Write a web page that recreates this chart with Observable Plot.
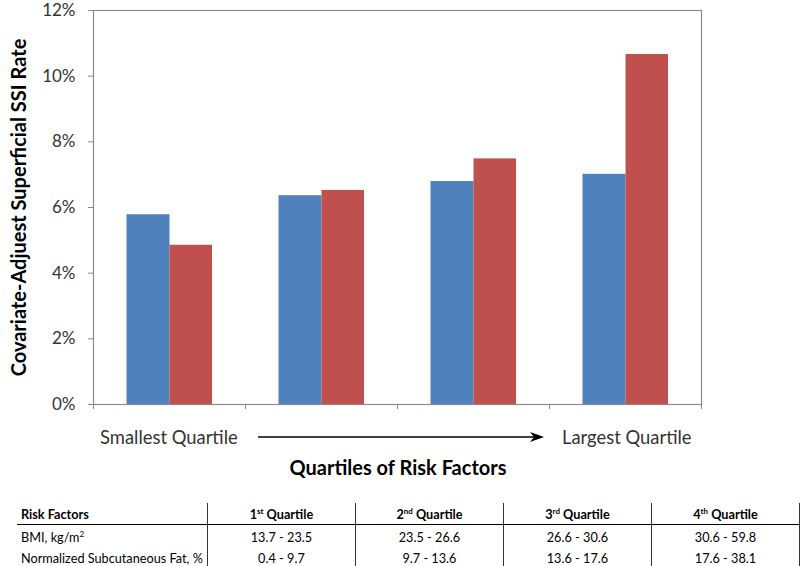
<!DOCTYPE html>
<html><head><meta charset="utf-8">
<script src="https://cdn.jsdelivr.net/npm/d3@7"></script>
<script src="https://cdn.jsdelivr.net/npm/@observablehq/plot@0.6"></script>
<style>
body{margin:0;background:#fff;font-family:Lato,"Open Sans",sans-serif;}
#wrap{position:relative;width:800px;height:566px;overflow:hidden;background:#fff;}
#chart{position:absolute;left:0;top:0;}
.lab{position:absolute;font-size:18.4px;color:#333;line-height:20px;white-space:nowrap;}
#arrow{position:absolute;}
#xtitle{position:absolute;left:0;width:796px;text-align:center;font-weight:bold;font-size:20px;color:#000;line-height:24px;}
#tbl{position:absolute;left:17px;top:503px;border-collapse:collapse;font-size:12.7px;color:#000;}
#tbl td{padding:0;border-right:1px solid #333;text-align:center;white-space:nowrap;}
#tbl td.first{text-align:left;padding-left:4px;}
#tbl tr.head td{font-weight:bold;border-bottom:1px solid #000;height:21px;}
#tbl tr.r1 td{height:23px;}
#tbl tr.r2 td{height:19px;}
sup{font-size:8px;line-height:0;vertical-align:5px;}
</style></head><body>
<div id="wrap">
  <div id="chart"></div>
  <div class="lab" id="small"></div>
  <svg id="arrow" width="300" height="14"></svg>
  <div class="lab" id="large"></div>
  <div id="xtitle"></div>
  <table id="tbl"></table>
</div>
<script>
// ---- data ----
const quartiles = ["1st Quartile", "2nd Quartile", "3rd Quartile", "4th Quartile"];
const ordinalNums = ["1", "2", "3", "4"];
const ordinalSuffix = ["st", "nd", "rd", "th"];
const bmiRate = [0.0578, 0.0636, 0.0679, 0.0701];
const fatRate = [0.0485, 0.0652, 0.0748, 0.1066];
const yTicks = [0, 0.02, 0.04, 0.06, 0.08, 0.10, 0.12];
const yTitle = "Covariate-Adjuest Superficial SSI Rate";
const xTitle = "Quartiles of Risk Factors";
const arrowLeftLabel = "Smallest Quartile";
const arrowRightLabel = "Largest Quartile";
const tableHeader = "Risk Factors";
const rowLabels = ["BMI, kg/m", "Normalized Subcutaneous Fat, %"];
const bmiRanges = ["13.7 - 23.5", "23.5 - 26.6", "26.6 - 30.6", "30.6 - 59.8"];
const fatRanges = ["0.4 - 9.7", "9.7 - 13.6", "13.6 - 17.6", "17.6 - 38.1"];

// ---- chart ----
const W = 800, H = 420, mL = 93, mR = 99, mT = 10, mB = 16;
const bw = (W - mL - mR) / quartiles.length;
const data = quartiles.map((q, i) => ({q, bmi: bmiRate[i], fat: fatRate[i]}));
const axisColor = "#8a8a8a";

const chart = Plot.plot({
  width: W, height: H,
  marginLeft: mL, marginRight: mR, marginTop: mT, marginBottom: mB,
  style: {fontFamily: "Lato, 'Open Sans', sans-serif", fontSize: "17px", color: "#333", background: "white", overflow: "visible"},
  x: {domain: quartiles, padding: 0, axis: null},
  y: {domain: [0, 0.12], axis: null},
  marks: [
    Plot.barY(data, {x: "q", y: "bmi", fill: "#4F81BD", insetLeft: 33.5, insetRight: 75.5}),
    Plot.barY(data, {x: "q", y: "fat", fill: "#C0504D", insetLeft: 76.5, insetRight: 33}),
    Plot.frame({stroke: axisColor, strokeWidth: 1.2}),
    Plot.axisY({ticks: yTicks, tickFormat: d3.format(".0%"), tickSize: 5, tickPadding: 13, stroke: axisColor, fill: "#333", label: null}),
    Plot.axisY({ticks: [], tickSize: 0, label: yTitle, labelArrow: "none", labelAnchor: "center", labelOffset: 82, dy: -10, fontSize: 20, fontWeight: "bold", fill: "#000"}),
    Plot.axisX({ticks: quartiles, tickSize: 5, tickFormat: () => "", dx: -bw / 2, stroke: axisColor, label: null}),
    Plot.axisX({ticks: [quartiles[quartiles.length - 1]], tickSize: 5, tickFormat: () => "", dx: bw / 2, stroke: axisColor, label: null})
  ]
});
document.getElementById("chart").appendChild(chart);

// ---- under-chart annotations ----
const small = document.getElementById("small");
small.textContent = arrowLeftLabel;
small.style.left = "100px"; small.style.top = "427px";
const large = document.getElementById("large");
large.textContent = arrowRightLabel;
large.style.left = "562px"; large.style.top = "427px";
const arrow = d3.select("#arrow").style("left", "256px").style("top", "430px");
arrow.append("line").attr("x1", 2).attr("x2", 282).attr("y1", 7).attr("y2", 7).attr("stroke", "#000").attr("stroke-width", 1.5);
arrow.append("path").attr("d", "M274,2 L288,7 L274,12 L278,7 Z").attr("fill", "#000");

const xt = document.getElementById("xtitle");
xt.textContent = xTitle;
xt.style.top = "455px";

// ---- table ----
const tbl = d3.select("#tbl");
const colW = [190, 148, 148, 148, 148];
const head = tbl.append("tr").attr("class", "head");
head.append("td").attr("class", "first").style("width", (colW[0] - 4) + "px").text(tableHeader);
quartiles.forEach((q, i) => {
  const td = head.append("td").style("width", colW[i + 1] + "px");
  td.append("span").text(ordinalNums[i]);
  td.append("sup").text(ordinalSuffix[i]);
  td.append("span").text(" " + q.split(" ")[1]);
});
const r1 = tbl.append("tr").attr("class", "r1");
const c1 = r1.append("td").attr("class", "first");
c1.append("span").text(rowLabels[0]);
c1.append("sup").text("2");
bmiRanges.forEach(v => r1.append("td").text(v));
const r2 = tbl.append("tr").attr("class", "r2");
r2.append("td").attr("class", "first").text(rowLabels[1]);
fatRanges.forEach(v => r2.append("td").text(v));
</script>
</body></html>
